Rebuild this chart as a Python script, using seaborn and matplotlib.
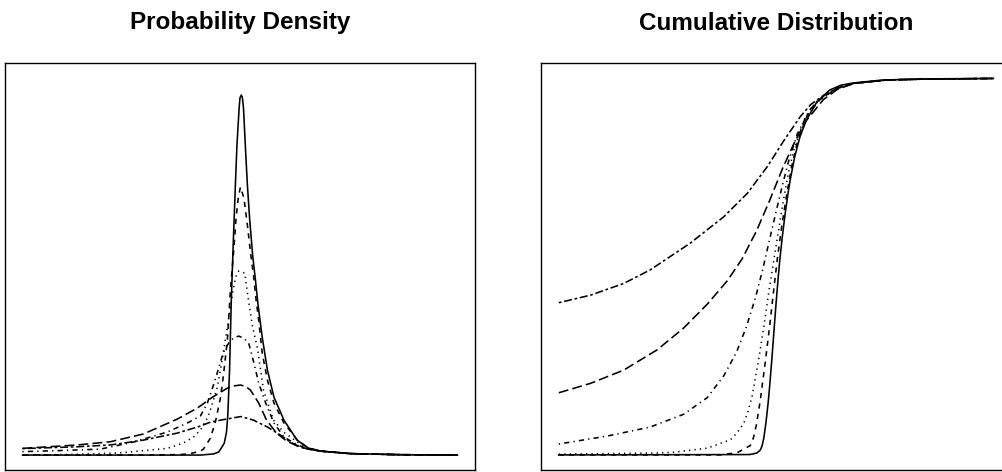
import numpy as np
import pandas as pd
import matplotlib
matplotlib.use("Agg")
import matplotlib.pyplot as plt
import seaborn as sns

# ---------------- data ----------------
curve_names = ["solid", "dashed", "dotted", "dotdash", "longdash", "twodash"]

# Probability density curves
pdf_x_solid = [-5.00, -2.06, -0.91, -0.61, -0.49, -0.43, -0.36, -0.31, -0.28, -0.24, -0.20, -0.15,
               -0.10, -0.07, -0.02, 0.00, 0.03, 0.055, 0.08, 0.13, 0.17, 0.22, 0.29, 0.36, 0.41, 0.51,
               0.63, 0.78, 1.01, 1.31, 1.57, 1.85, 2.54, 3.69, 5.00]
pdf_y_solid = [0.0, 0.0, 0.0, 0.006, 0.017, 0.039, 0.067, 0.128, 0.222, 0.472, 0.861, 1.211,
               1.539, 1.722, 1.928, 1.985, 2.000, 1.985, 1.928, 1.683, 1.500, 1.317, 1.111, 0.961, 0.844,
               0.656, 0.472, 0.322, 0.194, 0.083, 0.039, 0.022, 0.008, 0.002, 0.0]

pdf_x_dashed = [-5.00, -2.06, -1.37, -1.14, -0.91, -0.84, -0.68, -0.56, -0.45, -0.38, -0.29, -0.22,
                -0.14, -0.09, -0.04, 0.01, 0.09, 0.17, 0.24, 0.31, 0.37, 0.43, 0.51, 0.63, 0.78,
                1.01, 1.32, 1.57, 1.85, 2.54, 3.69, 5.00]
pdf_y_dashed = [0.0, 0.0, 0.003, 0.008, 0.022, 0.033, 0.094, 0.189, 0.317, 0.444, 0.639, 0.917,
                1.150, 1.317, 1.428, 1.489, 1.428, 1.278, 1.128, 1.000, 0.861, 0.750, 0.567, 0.417, 0.289,
                0.178, 0.083, 0.039, 0.022, 0.008, 0.002, 0.0]

pdf_x_dotted = [-5.00, -3.97, -2.82, -2.06, -1.67, -1.30, -1.07, -0.91, -0.75, -0.68, -0.52, -0.41,
                -0.31, -0.24, -0.17, -0.10, -0.03, 0.11, 0.17, 0.29, 0.40, 0.54, 0.77, 1.00, 1.32,
                1.57, 1.85, 2.54, 3.69, 5.00]
pdf_y_dotted = [0.0, 0.003, 0.011, 0.028, 0.037, 0.067, 0.100, 0.139, 0.206, 0.250, 0.378, 0.528,
                0.680, 0.790, 0.900, 0.989, 1.022, 1.011, 0.900, 0.711, 0.594, 0.360, 0.194, 0.128, 0.072,
                0.039, 0.022, 0.008, 0.002, 0.0]

pdf_x_dotdash = [-5.00, -4.13, -3.21, -2.45, -1.67, -1.21, -0.91, -0.75, -0.61, -0.49, -0.38, -0.26,
                 -0.15, -0.03, 0.08, 0.20, 0.32, 0.43, 0.59, 0.78, 1.01, 1.32, 1.57, 1.85, 2.54,
                 3.69, 5.00]
pdf_y_dotdash = [0.019, 0.025, 0.033, 0.072, 0.128, 0.178, 0.217, 0.289, 0.389, 0.483, 0.572, 0.622,
                 0.650, 0.661, 0.650, 0.622, 0.511, 0.400, 0.289, 0.178, 0.100, 0.056, 0.033, 0.022, 0.008,
                 0.002, 0.0]

pdf_x_longdash = [-5.00, -3.74, -2.98, -2.22, -1.44, -0.98, -0.63, -0.29, -0.12, 0.01, 0.13, 0.24,
                  0.43, 0.61, 0.84, 1.07, 1.32, 1.57, 1.85, 2.54, 3.69, 5.00]
pdf_y_longdash = [0.037, 0.056, 0.074, 0.117, 0.200, 0.261, 0.322, 0.372, 0.385, 0.389, 0.381, 0.361,
                  0.289, 0.194, 0.122, 0.078, 0.050, 0.033, 0.022, 0.008, 0.002, 0.0]

pdf_x_twodash = [-5.00, -3.74, -2.98, -2.22, -1.44, -0.91, -0.68, -0.38, 0.02, 0.31, 0.63, 0.93,
                 1.16, 1.39, 1.57, 1.85, 2.54, 3.69, 5.00]
pdf_y_twodash = [0.036, 0.046, 0.056, 0.083, 0.122, 0.161, 0.183, 0.197, 0.214, 0.194, 0.156, 0.111,
                 0.072, 0.044, 0.033, 0.022, 0.008, 0.002, 0.0]

# Cumulative distribution curves
cdf_x_solid = [-5.00, -0.60, -0.44, -0.36, -0.32, -0.28, -0.23, -0.18, -0.15, -0.10, -0.05, 0.00,
               0.05, 0.09, 0.14, 0.21, 0.28, 0.33, 0.43, 0.55, 0.70, 0.93, 1.23, 1.49, 1.77, 2.46,
               3.61, 5.00]
cdf_y_solid = [0.0, 0.001, 0.005, 0.013, 0.024, 0.045, 0.086, 0.139, 0.177, 0.247, 0.324, 0.400,
               0.470, 0.520, 0.574, 0.640, 0.697, 0.732, 0.791, 0.844, 0.889, 0.935, 0.968, 0.981, 0.987,
               0.995, 0.998, 0.999]

cdf_x_dashed = [-5.00, -1.28, -0.89, -0.59, -0.52, -0.45, -0.36, -0.24, -0.13, -0.05, 0.03, 0.13,
                0.24, 0.36, 0.49, 0.72, 1.02, 1.41, 1.79, 2.56, 3.32, 5.00]
cdf_y_dashed = [0.0, 0.0, 0.006, 0.025, 0.045, 0.080, 0.146, 0.252, 0.358, 0.440, 0.520, 0.605,
                0.687, 0.765, 0.830, 0.902, 0.944, 0.973, 0.986, 0.995, 0.997, 0.999]

cdf_x_dotted = [-4.99, -2.81, -2.35, -1.58, -1.05, -0.90, -0.74, -0.65, -0.55, -0.40, -0.28, -0.17,
                -0.05, 0.06, 0.17, 0.29, 0.41, 0.64, 0.91, 1.41, 1.79, 2.56, 3.32, 5.00]
cdf_y_dotted = [0.002, 0.005, 0.007, 0.018, 0.040, 0.058, 0.084, 0.113, 0.155, 0.252, 0.340, 0.429,
                0.517, 0.597, 0.676, 0.751, 0.809, 0.889, 0.936, 0.973, 0.986, 0.995, 0.997, 0.999]

cdf_x_dotdash = [-4.99, -3.88, -2.89, -2.12, -1.58, -1.20, -0.91, -0.68, -0.47, -0.31, -0.17, -0.01,
                 0.14, 0.29, 0.49, 0.79, 1.09, 1.41, 1.79, 2.56, 3.32, 5.00]
cdf_y_dotdash = [0.029, 0.050, 0.074, 0.108, 0.152, 0.210, 0.272, 0.340, 0.418, 0.490, 0.560, 0.640,
                 0.712, 0.780, 0.852, 0.918, 0.952, 0.973, 0.986, 0.995, 0.997, 0.999]

cdf_x_longdash = [-4.99, -4.26, -3.50, -2.73, -2.12, -1.58, -1.12, -0.78, -0.45, -0.15, 0.15, 0.41,
                  0.68, 1.09, 1.41, 1.79, 2.56, 3.32, 5.00]
cdf_y_longdash = [0.165, 0.190, 0.225, 0.279, 0.337, 0.400, 0.462, 0.520, 0.594, 0.674, 0.760, 0.826,
                  0.885, 0.943, 0.970, 0.986, 0.995, 0.997, 0.999]

cdf_x_twodash = [-4.99, -4.26, -3.50, -2.89, -1.97, -1.20, -0.66, -0.20, 0.18, 0.56, 0.80, 1.09,
                 1.41, 1.79, 2.56, 3.32, 5.00]
cdf_y_twodash = [0.404, 0.424, 0.455, 0.491, 0.562, 0.632, 0.694, 0.765, 0.834, 0.898, 0.930, 0.954,
                 0.973, 0.986, 0.995, 0.997, 0.999]

titles = ["Probability Density", "Cumulative Distribution"]

# ---------------- build long tables ----------------
pdf_series = {
    "solid": (pdf_x_solid, pdf_y_solid),
    "dashed": (pdf_x_dashed, pdf_y_dashed),
    "dotted": (pdf_x_dotted, pdf_y_dotted),
    "dotdash": (pdf_x_dotdash, pdf_y_dotdash),
    "longdash": (pdf_x_longdash, pdf_y_longdash),
    "twodash": (pdf_x_twodash, pdf_y_twodash),
}
cdf_series = {
    "solid": (cdf_x_solid, cdf_y_solid),
    "dashed": (cdf_x_dashed, cdf_y_dashed),
    "dotted": (cdf_x_dotted, cdf_y_dotted),
    "dotdash": (cdf_x_dotdash, cdf_y_dotdash),
    "longdash": (cdf_x_longdash, cdf_y_longdash),
    "twodash": (cdf_x_twodash, cdf_y_twodash),
}


def to_long(series):
    rows = []
    for name in curve_names:
        xs, ys = series[name]
        for xv, yv in zip(xs, ys):
            rows.append({"x": xv, "y": yv, "lty": name})
    return pd.DataFrame(rows)


df_pdf = to_long(pdf_series)
df_cdf = to_long(cdf_series)

dash_map = {
    "solid": "",
    "dashed": (3.3, 3.3),
    "dotted": (0.8, 2.6),
    "dotdash": (0.8, 2.6, 3.3, 2.6),
    "longdash": (6.2, 2.6),
    "twodash": (1.7, 1.7, 5.0, 1.7),
}

# ---------------- figure ----------------
sns.set_style("white")
plt.rcParams["font.family"] = ["Liberation Sans", "DejaVu Sans"]

W, H = 1002, 472
fig = plt.figure(figsize=(W / 100, H / 100), dpi=100)
fig.patch.set_facecolor("white")

ax_pdf = fig.add_axes([5 / W, (H - 470) / H, 470 / W, 407 / H])
ax_cdf = fig.add_axes([541 / W, (H - 470) / H, 470 / W, 407 / H])

for ax, df, ylim in [(ax_pdf, df_pdf, (-0.083, 2.178)), (ax_cdf, df_cdf, (-0.040, 1.040))]:
    sns.lineplot(data=df, x="x", y="y", style="lty", style_order=curve_names,
                 dashes=dash_map, color="black", linewidth=1.15,
                 estimator=None, sort=False, legend=False, ax=ax)
    ax.set_xlim(-5.4, 5.4)
    ax.set_ylim(*ylim)
    ax.set_xticks([])
    ax.set_yticks([])
    ax.set_xlabel("")
    ax.set_ylabel("")
    for sp in ax.spines.values():
        sp.set_visible(True)
        sp.set_color("black")
        sp.set_linewidth(1.0)

fig.text(240 / W, 1 - 23 / H, titles[0], ha="center", va="center",
         fontsize=17.5, fontweight="bold", color="black")
fig.text(776 / W, 1 - 23 / H, titles[1], ha="center", va="center",
         fontsize=17.5, fontweight="bold", color="black")

fig.savefig("out.png", dpi=100, facecolor="white")
